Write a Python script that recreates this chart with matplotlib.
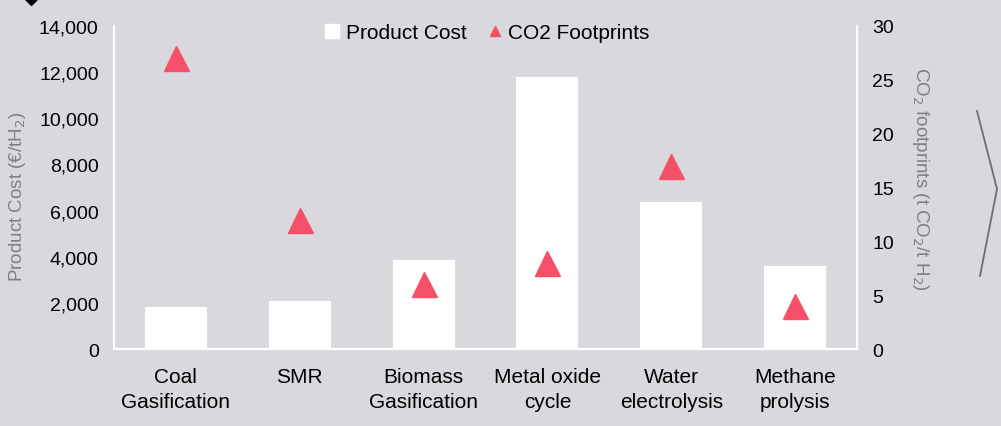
import numpy as np
import matplotlib
matplotlib.use("Agg")
import matplotlib.pyplot as plt
from matplotlib.lines import Line2D

plt.rcParams['font.family'] = ['Liberation Sans', 'DejaVu Sans']

categories = ["Coal\nGasification", "SMR", "Biomass\nGasification",
              "Metal oxide\ncycle", "Water\nelectrolysis", "Methane\nprolysis"]
product_cost = [1800, 2080, 3850, 11800, 6350, 3580]
co2_footprint = [27, 12, 6, 8, 17, 4]

bg = '#d9d8dd'
red = '#f5506a'
grey = '#7f7f7f'

fig = plt.figure(figsize=(10.01, 4.27), dpi=100, facecolor=bg)
ax = fig.add_axes([0.1139, 0.1803, 0.7423, 0.7565])
ax.set_facecolor(bg)

x = np.arange(len(categories))
ax.bar(x, product_cost, width=0.5, color='white', label='Product Cost', zorder=2)
ax.set_xlim(-0.5, len(categories) - 0.5)
ax.set_ylim(0, 14000)
ax.set_yticks(np.arange(0, 14001, 2000))
ax.set_yticklabels([f"{v:,}" for v in range(0, 14001, 2000)])
ax.set_xticks(x)
ax.set_xticklabels(categories, fontsize=15, linespacing=1.4)
ax.tick_params(length=0, colors='black')
ax.tick_params(axis='y', pad=11, labelsize=14)
ax.tick_params(axis='x', pad=13)
ax.set_ylabel("Product Cost (€/tH$_2$)", color=grey, fontsize=13.5, va='center')
ax.yaxis.set_label_coords(-0.13, 0.474)

ax2 = ax.twinx()
ax2.plot(x, co2_footprint, linestyle='none', marker='^', markersize=18,
         color=red, label='CO2 Footprints', zorder=3)
ax2.set_ylim(0, 30)
ax2.set_yticks(np.arange(0, 31, 5))
ax2.tick_params(length=0, labelsize=14, colors='black', pad=11)
ax2.set_ylabel("CO$_2$ footprints (t CO$_2$/t H$_2$)", color=grey, fontsize=13.5,
               rotation=270, va='center')
ax2.yaxis.set_label_coords(1.085, 0.529)

for a in (ax, ax2):
    a.spines['top'].set_visible(False)
    for s in ('left', 'right', 'bottom'):
        a.spines[s].set_color('white')
        a.spines[s].set_linewidth(1.5)

# legend combining bars and markers
handles = [Line2D([], [], linestyle='none', marker='s', markersize=10,
                  color='white', label='Product Cost'),
           Line2D([], [], linestyle='none', marker='^', markersize=7,
                  color=red, label='CO2 Footprints')]
fig.legend(handles=handles, loc='center', bbox_to_anchor=(0.487, 0.922),
           ncol=2, frameon=False, fontsize=15, handlelength=0.7,
           handletextpad=0.3, columnspacing=1.0)

# decorative diamond and chevron
fig.add_artist(Line2D([31 / 1001], [1 + 1.5 / 427], marker='D', markersize=7,
                      color='black', transform=fig.transFigure, clip_on=False))
fig.add_artist(Line2D([977 / 1001, 997 / 1001, 980 / 1001],
                      [1 - 112 / 427, 1 - 190 / 427, 1 - 277 / 427],
                      color='#6d6d72', linewidth=1.3, transform=fig.transFigure))

fig.savefig("out.png", dpi=100, facecolor=bg)
